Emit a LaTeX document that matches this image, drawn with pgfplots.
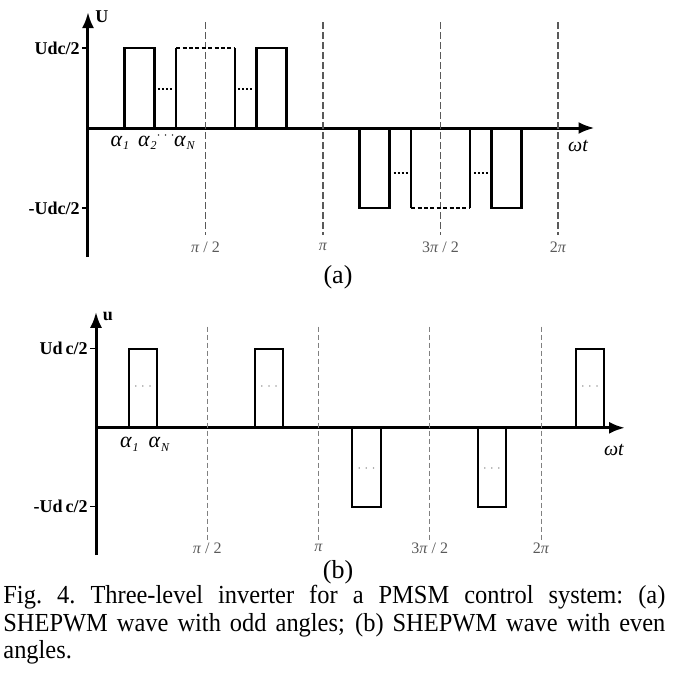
\documentclass[border=0pt]{standalone}
\usepackage{fontspec}
\setmainfont{Liberation Serif}
\newfontfamily\capfont{Liberation Serif}[FakeStretch=0.94]
\usepackage{pgfplots}
\pgfplotsset{compat=1.18}
\usetikzlibrary{arrows.meta}
\definecolor{dgray}{gray}{0.35}
\definecolor{lgray}{gray}{0.5}
\newcommand{\al}[1]{\textit{α}\kern0.3pt\raisebox{-1.6pt}{\fontsize{6}{6}\selectfont\textit{#1}}}
\newcommand{\jline}[1]{\leavevmode{\spaceskip=0.25em plus 1fil\xspaceskip=0.25em plus 1fil\hbox to 331pt{#1}}}
\begin{document}
\begin{tikzpicture}
\useasboundingbox (0,0) rectangle (342.5pt,-342.5pt);
% ---------------- panel (a)
\begin{axis}[
  at={(44pt,-128.5pt)}, anchor=south west,
  x=0.65278pt, y=40pt,
  xmin=0, xmax=388, ymin=-1.6125, ymax=1.45,
  enlargelimits=false, clip=false,
  axis lines=middle,
  axis line style={line width=1.5pt, -{Latex[length=8pt,width=6pt]}},
  xtick=\empty, ytick={-1,1}, yticklabels={-Udc/2,Udc/2},
  yticklabel style={font=\fontsize{9}{9}\selectfont\bfseries, inner sep=1pt},
  major tick length=3pt, tick align=outside,
  ytick style={line width=0.6pt, black},
]
\foreach \xx in {90,180,270,360}{
  \edef\tmp{\noexpand\addplot[dgray, line width=0.55pt, dash pattern=on 3.5pt off 1.5pt] coordinates {(\xx,1.325) (\xx,-1.34)};}\tmp
}
% pulses
\addplot[black, line width=1.2pt] coordinates {(28,0) (28,1) (51,1) (51,0)};
\addplot[black, line width=1.2pt] coordinates {(67.5,0) (67.5,1)};
\addplot[black, line width=1.2pt] coordinates {(112.5,1) (112.5,0)};
\addplot[black, line width=1.2pt, dash pattern=on 2pt off 1.2pt] coordinates {(67.5,1) (112.5,1)};
\addplot[black, line width=1.2pt] coordinates {(129,0) (129,1) (152,1) (152,0)};
\addplot[black, line width=1.2pt] coordinates {(208,0) (208,-1) (231,-1) (231,0)};
\addplot[black, line width=1.2pt] coordinates {(247.5,0) (247.5,-1)};
\addplot[black, line width=1.2pt] coordinates {(292.5,-1) (292.5,0)};
\addplot[black, line width=1.2pt, dash pattern=on 2pt off 1.2pt] coordinates {(247.5,-1) (292.5,-1)};
\addplot[black, line width=1.2pt] coordinates {(309,0) (309,-1) (332,-1) (332,0)};
% ellipses
\addplot[black, line width=1pt, dash pattern=on 1pt off 1pt] coordinates {(53.5,0.49) (65,0.49)};
\addplot[black, line width=1pt, dash pattern=on 1pt off 1pt] coordinates {(115,0.49) (127,0.49)};
\addplot[black, line width=1pt, dash pattern=on 1pt off 1pt] coordinates {(234,-0.56) (245.5,-0.56)};
\addplot[black, line width=1pt, dash pattern=on 1pt off 1pt] coordinates {(295.5,-0.56) (307,-0.56)};
% labels
\node[font=\fontsize{9}{9}\selectfont\bfseries] at (axis cs:10.7,1.39) {U};
\node[font=\fontsize{11}{11}\selectfont, anchor=base] at (axis cs:24.5,-0.225) {\al{1}};
\node[font=\fontsize{11}{11}\selectfont, anchor=base] at (axis cs:45.5,-0.225) {\al{2}};
\node[font=\fontsize{6}{6}\selectfont, inner sep=0pt] at (axis cs:59.5,-0.1) {$\cdots$};
\node[font=\fontsize{11}{11}\selectfont, anchor=base] at (axis cs:74,-0.225) {\al{N}};
\node[font=\fontsize{10}{10}\selectfont\itshape] at (axis cs:375.3,-0.225) {ωt};
\node[font=\fontsize{8}{8}\selectfont, text=dgray] at (axis cs:90,-1.49) {\textit{π} / 2};
\node[font=\fontsize{8}{8}\selectfont, text=dgray] at (axis cs:180,-1.49) {\textit{π}};
\node[font=\fontsize{8}{8}\selectfont, text=dgray] at (axis cs:270,-1.49) {3\textit{π} / 2};
\node[font=\fontsize{8}{8}\selectfont, text=dgray] at (axis cs:360,-1.49) {2\textit{π}};
\end{axis}
\node[font=\fontsize{13}{13}\selectfont] at (169pt,-138.5pt) {(a)};
% ---------------- panel (b)
\begin{axis}[
  at={(48pt,-277.5pt)}, anchor=south west,
  x=0.61806pt, y=39.5pt,
  xmin=0, xmax=428, ymin=-1.61, ymax=1.468,
  enlargelimits=false, clip=false,
  axis lines=middle,
  axis line style={line width=1.5pt, -{Latex[length=8pt,width=6pt]}},
  xtick=\empty, ytick={-1,1}, yticklabels={-Ud\,c/2,Ud\,c/2},
  yticklabel style={font=\fontsize{9}{9}\selectfont\bfseries, inner sep=1pt},
  major tick length=3pt, tick align=outside,
  ytick style={line width=0.6pt, black},
]
\foreach \xx in {90,180,270,360}{
  \edef\tmp{\noexpand\addplot[lgray, line width=0.5pt, dash pattern=on 2.5pt off 1.5pt] coordinates {(\xx,1.28) (\xx,-1.42)};}\tmp
}
\addplot[black, line width=1pt] coordinates {(26.7,0) (26.7,1) (49.3,1) (49.3,0)};
\addplot[black, line width=1pt] coordinates {(128.6,0) (128.6,1) (151.3,1) (151.3,0)};
\addplot[black, line width=1pt] coordinates {(207.1,0) (207.1,-1) (230.6,-1) (230.6,0)};
\addplot[black, line width=1pt] coordinates {(309,0) (309,-1) (331.7,-1) (331.7,0)};
\addplot[black, line width=1pt] coordinates {(388.3,0) (388.3,1) (411,1) (411,0)};
\node[font=\fontsize{6}{6}\selectfont, text=lgray] at (axis cs:38,0.52) {$\cdots$};
\node[font=\fontsize{6}{6}\selectfont, text=lgray] at (axis cs:140,0.52) {$\cdots$};
\node[font=\fontsize{6}{6}\selectfont, text=lgray] at (axis cs:218.8,-0.52) {$\cdots$};
\node[font=\fontsize{6}{6}\selectfont, text=lgray] at (axis cs:320.3,-0.52) {$\cdots$};
\node[font=\fontsize{6}{6}\selectfont, text=lgray] at (axis cs:399.6,0.52) {$\cdots$};
\node[font=\fontsize{9}{9}\selectfont\bfseries] at (axis cs:9.7,1.405) {u};
\node[font=\fontsize{11}{11}\selectfont, anchor=base] at (axis cs:27,-0.253) {\al{1}};
\node[font=\fontsize{11}{11}\selectfont, anchor=base] at (axis cs:51,-0.253) {\al{N}};
\node[font=\fontsize{10}{10}\selectfont\itshape] at (axis cs:419,-0.28) {ωt};
\node[font=\fontsize{8}{8}\selectfont, text=dgray] at (axis cs:90,-1.52) {\textit{π} / 2};
\node[font=\fontsize{8}{8}\selectfont, text=dgray] at (axis cs:180,-1.52) {\textit{π}};
\node[font=\fontsize{8}{8}\selectfont, text=dgray] at (axis cs:270,-1.52) {3\textit{π} / 2};
\node[font=\fontsize{8}{8}\selectfont, text=dgray] at (axis cs:360,-1.52) {2\textit{π}};
\end{axis}
\node[font=\fontsize{13}{13}\selectfont] at (169pt,-286pt) {(b)};
% caption
\node[anchor=north west, inner sep=0pt, text width=331pt, align=left,
      font=\capfont\fontsize{13}{13.75}\selectfont] at (1.5pt,-292.5pt)
 {\jline{Fig. 4. Three-level inverter for a PMSM control system: (a)}\\
  \jline{SHEPWM wave with odd angles; (b) SHEPWM wave with even}\\
  angles.};
\end{tikzpicture}
\end{document}
